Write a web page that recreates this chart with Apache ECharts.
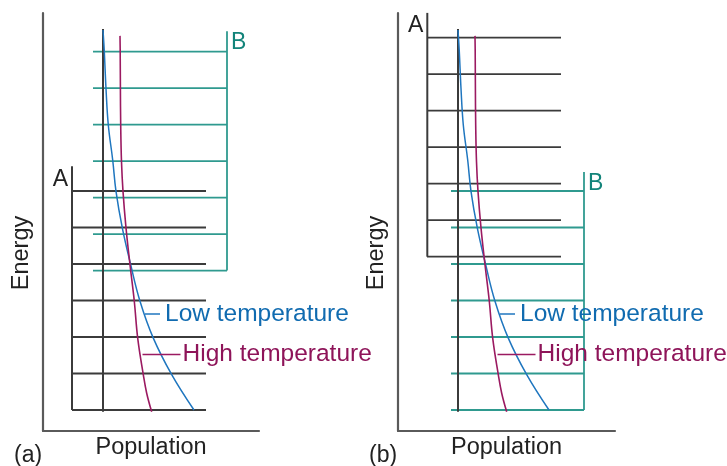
<!DOCTYPE html>
<html>
<head>
<meta charset="utf-8">
<script src="https://cdn.jsdelivr.net/npm/echarts@6/dist/echarts.min.js"></script>
<style>
  html, body { margin: 0; padding: 0; background: #fff; }
  #chart { width: 727px; height: 466px; }
</style>
</head>
<body>
<div id="chart"></div>
<script>
// energy of each level (one level spacing = 1 unit)
const levelsA_a = [0, 1, 2, 3, 4, 5, 6];
const levelsB_a = [3.82, 4.82, 5.82, 6.82, 7.82, 8.82, 9.82];
const levelsA_b = [4.2, 5.2, 6.2, 7.2, 8.2, 9.2, 10.2];
const levelsB_b = [0, 1, 2, 3, 4, 5, 6];

// horizontal extent of level lines [from, to] in population units
const spanA = [-3.1, 10.3];
const spanB_a = [-1.0, 12.4];
const spanB_b = [-0.7, 12.6];

// vertical bracket lines [x, Ebottom, Etop]
const bracketA_a = [-3.1, 0, 6.68];
const bracketB_a = [12.4, 3.82, 10.38];
const bracketA_b = [-3.07, 4.2, 10.88];
const bracketB_b = [12.6, 0, 6.52];

// population baseline [x, Ebottom, Etop]
const baseline = [0, -0.05, 10.44];

// population curves: [population, energy]
const lowTemp = [
  [0.0, 10.41], [0.13, 9.82], [0.3, 8.81], [0.53, 7.81], [0.97, 6.85],
  [1.3, 5.99], [1.93, 4.99], [2.77, 3.98], [3.7, 2.98], [5.03, 1.97],
  [6.87, 0.97], [9.1, 0]
];
const highTemp = [
  [1.7, 10.25], [1.72, 9.82], [1.74, 8.81], [1.77, 7.81], [1.85, 6.8],
  [2.0, 5.99], [2.3, 4.99], [2.7, 3.98], [3.13, 2.98], [3.47, 1.97],
  [4.03, 0.97], [4.37, 0.46], [4.87, -0.05]
];

// label connectors [[x1, E], [x2, E]]
const lowConnector = [[4.2, 2.63], [5.7, 2.63]];
const highConnector = [[3.95, 1.52], [7.75, 1.52]];

const dark = '#3b3b3b';
const teal = '#2f9a8f';
const tealText = '#13847a';
const blue = '#1f76bf';
const blueText = '#106bb0';
const magenta = '#9b1a61';
const magentaText = '#8e1459';
const font = '"Liberation Sans", Arial, sans-serif';

function seg(data, color, width, gi, z) {
  return {
    type: 'line', xAxisIndex: gi, yAxisIndex: gi,
    data: data, symbol: 'none', silent: true, z: z || 2,
    lineStyle: { color: color, width: width }, animation: false
  };
}

function panelSeries(gi, levelsA, levelsB, spanB, brA, brB) {
  const out = [];
  levelsB.forEach(e => out.push(seg([[spanB[0], e], [spanB[1], e]], teal, 1.8, gi, 2)));
  levelsA.forEach(e => out.push(seg([[spanA[0], e], [spanA[1], e]], dark, 1.8, gi, 3)));
  out.push(seg([[brA[0], brA[1]], [brA[0], brA[2]]], dark, 2, gi, 3));
  out.push(seg([[brB[0], brB[1]], [brB[0], brB[2]]], teal, 1.8, gi, 2));
  out.push(seg([[baseline[0], baseline[1]], [baseline[0], baseline[2]]], dark, 2, gi, 3));
  const low = seg(lowTemp, blue, 1.5, gi, 5); low.smooth = 0.4;
  const high = seg(highTemp, magenta, 1.6, gi, 5); high.smooth = 0.4;
  out.push(low, high);
  const lc = seg(lowConnector, blue, 1.4, gi, 5);
  lc.endLabel = { show: true, formatter: 'Low temperature', color: blueText, fontSize: 24.5, fontFamily: font, distance: 5 };
  const hc = seg(highConnector, magenta, 1.4, gi, 5);
  hc.endLabel = { show: true, formatter: 'High temperature', color: magentaText, fontSize: 24.5, fontFamily: font, distance: 2 };
  out.push(lc, hc);
  return out;
}

function xAx(gi, max) {
  return {
    type: 'value', gridIndex: gi, min: -6, max: max,
    name: 'Population', nameLocation: 'middle', nameGap: 5,
    nameTextStyle: { fontSize: 23.5, color: '#222', fontFamily: font, verticalAlign: 'top' },
    axisLine: { show: true, onZero: false, lineStyle: { color: '#5a5a5a', width: 2.2 } },
    axisTick: { show: false }, axisLabel: { show: false }, splitLine: { show: false }
  };
}
function yAx(gi) {
  return {
    type: 'value', gridIndex: gi, min: -0.575, max: 10.877,
    axisLine: { show: true, onZero: false, lineStyle: { color: '#5a5a5a', width: 2.2 } },
    axisTick: { show: false }, axisLabel: { show: false }, splitLine: { show: false }
  };
}

const chart = echarts.init(document.getElementById('chart'));
chart.setOption({
  backgroundColor: '#fff',
  animation: false,
  grid: [
    { left: 43, top: 13, width: 216, height: 418 },
    { left: 398, top: 13, width: 217, height: 418 }
  ],
  xAxis: [xAx(0, 15.6), xAx(1, 15.7)],
  yAxis: [yAx(0), yAx(1)],
  series: [
    ...panelSeries(0, levelsA_a, levelsB_a, spanB_a, bracketA_a, bracketB_a),
    ...panelSeries(1, levelsA_b, levelsB_b, spanB_b, bracketA_b, bracketB_b)
  ]
});

// bracket letters and panel texts placed through the axes
function px(gi, x, e) {
  return chart.convertToPixel({ xAxisIndex: gi, yAxisIndex: gi }, [x, e]);
}
const texts = [];
[[0, bracketA_a, bracketB_a], [1, bracketA_b, bracketB_b]].forEach(([gi, brA, brB]) => {
  const pa = px(gi, brA[0], brA[2]);
  const pb = px(gi, brB[0], brB[2]);
  texts.push({ type: 'text', x: pa[0] - 4, y: pa[1] + 13,
    style: { text: 'A', fill: '#222', font: '23px ' + font, align: 'right', verticalAlign: 'middle' } });
  texts.push({ type: 'text', x: pb[0] + 4, y: pb[1] + 12,
    style: { text: 'B', fill: tealText, font: '23px ' + font, align: 'left', verticalAlign: 'middle' } });
});
texts.push({ type: 'text', x: 22, y: 253, rotation: Math.PI / 2,
  style: { text: 'Energy', fill: '#222', font: '23.5px ' + font, align: 'center', verticalAlign: 'middle' } });
texts.push({ type: 'text', x: 377, y: 253, rotation: Math.PI / 2,
  style: { text: 'Energy', fill: '#222', font: '23.5px ' + font, align: 'center', verticalAlign: 'middle' } });
texts.push({ type: 'text', x: 14, y: 456,
  style: { text: '(a)', fill: '#222', font: '23px ' + font, align: 'left', verticalAlign: 'middle' } });
texts.push({ type: 'text', x: 369, y: 456,
  style: { text: '(b)', fill: '#222', font: '23px ' + font, align: 'left', verticalAlign: 'middle' } });
chart.setOption({ graphic: texts });
</script>
</body>
</html>
